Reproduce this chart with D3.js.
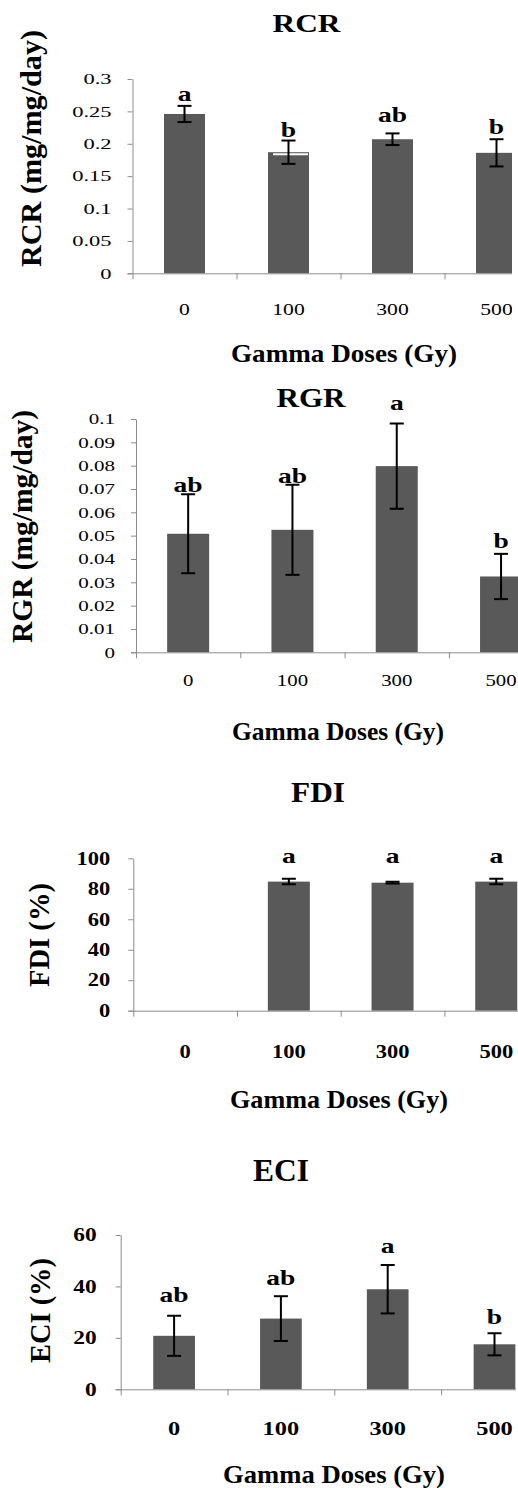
<!DOCTYPE html>
<html>
<head>
<meta charset="utf-8">
<script src="https://cdn.jsdelivr.net/npm/d3@7"></script>
<style>
  body { margin: 0; background: #fff; }
  svg { display: block; }
</style>
</head>
<body>
<svg id="fig" width="518" height="1488"></svg>
<script>
// ---- values ----
const doses = ["0", "100", "300", "500"];

const rcrMean = [0.246, 0.187, 0.207, 0.186];
const rcrErr = [0.0125, 0.018, 0.009, 0.021];
const rcrLetters = ["a", "b", "ab", "b"];
const rcrLetterAt = [0.266, 0.211, 0.234, 0.215];
const rcrTicks = [0, 0.05, 0.1, 0.15, 0.2, 0.25, 0.3];
const rcrTickLabels = ["0", "0.05", "0.1", "0.15", "0.2", "0.25", "0.3"];
const rcrWhiteRule = [null, 0.184, null, null]; // stray white line on the 100 Gy bar

const rgrMean = [0.0508, 0.0525, 0.0798, 0.0325];
const rgrErr = [0.0169, 0.0193, 0.0183, 0.0097];
const rgrLetters = ["ab", "ab", "a", "b"];
const rgrLetterAt = [0.0687, 0.0724, 0.1039, 0.0446];
const rgrTicks = [0, 0.01, 0.02, 0.03, 0.04, 0.05, 0.06, 0.07, 0.08, 0.09, 0.1];
const rgrTickLabels = ["0", "0.01", "0.02", "0.03", "0.04", "0.05", "0.06", "0.07", "0.08", "0.09", "0.1"];

const fdiMean = [0, 84.7, 84.0, 84.7];
const fdiErr = [0, 1.8, 0.6, 1.8];
const fdiLetters = ["", "a", "a", "a"];
const fdiLetterAt = [null, 96.8, 96.8, 96.8];
const fdiTicks = [0, 20, 40, 60, 80, 100];
const fdiTickLabels = ["0", "20", "40", "60", "80", "100"];

const eciMean = [20.8, 27.5, 38.9, 17.5];
const eciErr = [7.8, 8.7, 9.4, 4.3];
const eciLetters = ["ab", "ab", "a", "b"];
const eciLetterAt = [34.1, 40.6, 52.9, 25.4];
const eciTicks = [0, 20, 40, 60];
const eciTickLabels = ["0", "20", "40", "60"];

const xTitle = "Gamma Doses (Gy)";

// ---- layout of the four stacked panels ----
const panels = [
  { title: "RCR", ylabel: "RCR (mg/mg/day)", mean: rcrMean, err: rcrErr, letters: rcrLetters, letterAt: rcrLetterAt,
    ticks: rcrTicks, tickLabels: rcrTickLabels, yMax: 0.3, white: rcrWhiteRule,
    axisX: 132.5, top: 79, bottom: 273.3, band: 104, barW: 41, clipR: 512,
    titlePos: [306.5, 32, 68, 26], ylabPos: [41, 148.5, 237], xtickY: 315, xtitlePos: [344, 362, 226],
    boldTicks: false, ytickSize: 15, ytickK: 1.5, xtickSize: 16, xtickK: 1.35, tickPad: 16 },
  { title: "RGR", ylabel: "RGR (mg/mg/day)", mean: rgrMean, err: rgrErr, letters: rgrLetters, letterAt: rgrLetterAt,
    ticks: rgrTicks, tickLabels: rgrTickLabels, yMax: 0.1, white: null,
    axisX: 136, top: 419, bottom: 652.3, band: 104.3, barW: 42, clipR: 518,
    titlePos: [311, 407, 69, 27], ylabPos: [31.5, 526.5, 233], xtickY: 686, xtitlePos: [338, 740, 212],
    boldTicks: false, ytickSize: 15, ytickK: 1.4, xtickSize: 16, xtickK: 1.3, tickPad: 16 },
  { title: "FDI", ylabel: "FDI (%)", mean: fdiMean, err: fdiErr, letters: fdiLetters, letterAt: fdiLetterAt,
    ticks: fdiTicks, tickLabels: fdiTickLabels, yMax: 100, white: null,
    axisX: 133.3, top: 858.3, bottom: 1010.7, band: 103.7, barW: 42, clipR: 518,
    titlePos: [318, 802, 54, 30], ylabPos: [48.5, 935, 104], xtickY: 1057.5, xtitlePos: [339, 1108, 218],
    boldTicks: true, ytickSize: 18, ytickK: 1.25, xtickSize: 18, xtickK: 1.25, tickPad: 18 },
  { title: "ECI", ylabel: "ECI (%)", mean: eciMean, err: eciErr, letters: eciLetters, letterAt: eciLetterAt,
    ticks: eciTicks, tickLabels: eciTickLabels, yMax: 60, white: null,
    axisX: 120.7, top: 1235, bottom: 1389.3, band: 106.8, barW: 41.7, clipR: 516,
    titlePos: [281, 1180.5, 56, 31], ylabPos: [50, 1310.5, 105], xtickY: 1435, xtitlePos: [334, 1483, 222],
    boldTicks: true, ytickSize: 18, ytickK: 1.3, xtickSize: 19.5, xtickK: 1.25, tickPad: 19 }
];

const serif = "'Liberation Serif', 'Times New Roman', serif";
const barColor = "#595959";
const axisColor = "#8c8c8c";

const svg = d3.select("#fig");

// stretch text horizontally (the source figure's labels are drawn wide)
function stretch(sel, k) {
  sel.each(function () {
    const len = this.getComputedTextLength();
    d3.select(this).attr("textLength", len * k).attr("lengthAdjust", "spacingAndGlyphs");
  });
}
function fitWidth(sel, w) {
  sel.attr("textLength", w).attr("lengthAdjust", "spacingAndGlyphs");
}

panels.forEach((p, pi) => {
  const g = svg.append("g");

  const clipId = "clip" + pi;
  svg.append("defs").append("clipPath").attr("id", clipId)
    .append("rect").attr("x", 0).attr("y", p.top - 80).attr("width", p.clipR).attr("height", p.bottom - p.top + 200);

  const x = d3.scaleBand()
    .domain(doses)
    .range([p.axisX, p.axisX + p.band * doses.length])
    .paddingInner(0).paddingOuter(0);
  const y = d3.scaleLinear().domain([0, p.yMax]).range([p.bottom, p.top]);
  // band edges for the category tick marks
  const edge = d3.scaleLinear().domain([0, doses.length]).range(x.range());

  const body = g.append("g").attr("clip-path", `url(#${clipId})`);

  // bars
  body.selectAll("rect.bar")
    .data(p.mean)
    .join("rect")
      .attr("class", "bar")
      .attr("x", (d, i) => x(doses[i]) + x.bandwidth() / 2 - p.barW / 2)
      .attr("y", d => y(d))
      .attr("width", p.barW)
      .attr("height", d => y(0) - y(d))
      .attr("fill", barColor);

  if (p.white) {
    body.selectAll("line.white")
      .data(p.white.map((v, i) => ({ v, i })).filter(d => d.v != null))
      .join("line")
        .attr("x1", d => x(doses[d.i]) + x.bandwidth() / 2 - p.barW / 2 + 5)
        .attr("x2", d => x(doses[d.i]) + x.bandwidth() / 2 + p.barW / 2 - 1)
        .attr("y1", d => y(d.v))
        .attr("y2", d => y(d.v))
        .attr("stroke", "#fff")
        .attr("stroke-width", 2);
  }

  // x axis: baseline plus ticks at the band edges
  body.append("g")
    .attr("transform", `translate(0,${p.bottom})`)
    .attr("color", axisColor)
    .call(d3.axisBottom(edge).tickValues(d3.range(doses.length + 1)).tickSize(6).tickSizeOuter(0).tickFormat(""))
    .call(a => a.select(".domain").remove());
  body.append("line")
    .attr("x1", p.axisX - 5).attr("x2", edge(doses.length))
    .attr("y1", p.bottom + 0.5).attr("y2", p.bottom + 0.5)
    .attr("stroke", axisColor);

  // y axis
  const yAx = g.append("g")
    .attr("transform", `translate(${p.axisX},0)`)
    .attr("color", axisColor)
    .call(d3.axisLeft(y).tickValues(p.ticks).tickSize(5).tickSizeOuter(0).tickPadding(p.tickPad)
      .tickFormat((d, i) => p.tickLabels[i]));
  yAx.selectAll("text")
    .attr("fill", "#000")
    .style("font-family", serif)
    .style("font-size", p.ytickSize + "px")
    .style("font-weight", p.boldTicks ? "bold" : "normal")
    .call(stretch, p.ytickK);

  // error bars
  const eb = body.append("g").attr("stroke", "#000").attr("stroke-width", 2);
  p.mean.forEach((m, i) => {
    if (!p.err[i]) return;
    const cx = x(doses[i]) + x.bandwidth() / 2;
    const y1 = y(m + p.err[i]), y2 = y(m - p.err[i]);
    eb.append("line").attr("x1", cx).attr("x2", cx).attr("y1", y1).attr("y2", y2);
    eb.append("line").attr("x1", cx - 7).attr("x2", cx + 7).attr("y1", y1).attr("y2", y1);
    eb.append("line").attr("x1", cx - 7).attr("x2", cx + 7).attr("y1", y2).attr("y2", y2);
  });

  // significance letters
  body.selectAll("text.letter")
    .data(p.letters.map((t, i) => ({ t, i })).filter(d => d.t))
    .join("text")
      .attr("class", "letter")
      .attr("x", d => x(doses[d.i]) + x.bandwidth() / 2)
      .attr("y", d => y(p.letterAt[d.i]))
      .attr("text-anchor", "middle")
      .style("font-family", serif)
      .style("font-weight", "bold")
      .style("font-size", "22px")
      .text(d => d.t)
      .call(stretch, 1.25);

  // category labels
  body.selectAll("text.cat")
    .data(doses)
    .join("text")
      .attr("class", "cat")
      .attr("x", d => x(d) + x.bandwidth() / 2)
      .attr("y", p.xtickY)
      .attr("text-anchor", "middle")
      .style("font-family", serif)
      .style("font-size", p.xtickSize + "px")
      .style("font-weight", p.boldTicks ? "bold" : "normal")
      .text(d => d)
      .call(stretch, p.xtickK);

  // panel title
  g.append("text")
    .attr("x", p.titlePos[0]).attr("y", p.titlePos[1])
    .attr("text-anchor", "middle")
    .style("font-family", serif).style("font-weight", "bold")
    .style("font-size", p.titlePos[3] + "px")
    .text(p.title)
    .call(fitWidth, p.titlePos[2]);

  // y axis title
  g.append("text")
    .attr("transform", `translate(${p.ylabPos[0]},${p.ylabPos[1]}) rotate(-90)`)
    .attr("text-anchor", "middle")
    .style("font-family", serif).style("font-weight", "bold")
    .style("font-size", "29px")
    .text(p.ylabel)
    .call(fitWidth, p.ylabPos[2]);

  // x axis title
  g.append("text")
    .attr("x", p.xtitlePos[0]).attr("y", p.xtitlePos[1])
    .attr("text-anchor", "middle")
    .style("font-family", serif).style("font-weight", "bold")
    .style("font-size", "26px")
    .text(xTitle)
    .call(fitWidth, p.xtitlePos[2]);
});
</script>
</body>
</html>
